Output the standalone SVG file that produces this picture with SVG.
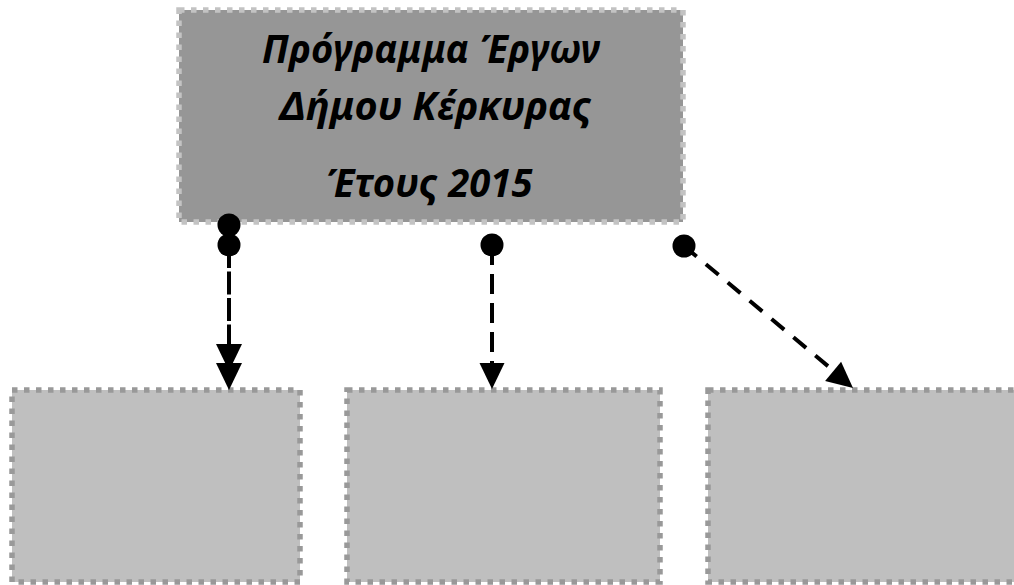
<svg xmlns="http://www.w3.org/2000/svg" width="1014" height="585" viewBox="0 0 1014 585">
<style>
.top{fill:#969696;stroke:#c3c3c3;stroke-width:5.5;stroke-dasharray:5.5 6.5}
.box{fill:#bfbfbf;stroke:#999999;stroke-width:5.5;stroke-dasharray:5.5 6.5}
.t{font-family:"Noto Sans","DejaVu Sans",sans-serif;font-weight:bold;font-style:italic;font-size:40px;fill:#000;text-anchor:middle}
.ln{stroke:#000;stroke-width:4;fill:none}
.hd{fill:#000}
</style>
<rect width="1014" height="585" fill="#fff"/>
<g id="node-main">
<rect class="top" x="179" y="10" width="504" height="212"/>
<text class="t" x="431" y="63" textLength="338" lengthAdjust="spacingAndGlyphs">Πρόγραμμα Έργων</text>
<text class="t" x="436" y="120" textLength="312" lengthAdjust="spacingAndGlyphs">Δήμου Κέρκυρας</text>
<text class="t" x="429" y="197" textLength="207" lengthAdjust="spacingAndGlyphs">Έτους 2015</text>
</g>
<g id="node-1"><rect class="box" x="12" y="390" width="288" height="192"/></g>
<g id="node-2"><rect class="box" x="347" y="390" width="313" height="192"/></g>
<g id="node-3"><rect class="box" x="708" y="390" width="320" height="192"/></g>
<g id="connectors">
<line class="ln" x1="229" y1="245" x2="229" y2="346" stroke-dasharray="23 3.5"/>
<circle class="hd" cx="229" cy="225" r="11.5"/>
<circle class="hd" cx="229" cy="245" r="11.5"/>
<polygon class="hd" points="216,344 242,344 229,371"/>
<polygon class="hd" points="216,363 242,363 229,390"/>
<line class="ln" x1="492" y1="245" x2="492" y2="364" stroke-dasharray="20 9"/>
<circle class="hd" cx="492" cy="245" r="11.5"/>
<polygon class="hd" points="479.5,363 504.5,363 492,389"/>
<line class="ln" x1="684" y1="246" x2="835" y2="372" stroke-dasharray="16.5 12"/>
<circle class="hd" cx="684" cy="246" r="11.5"/>
<polygon class="hd" points="825.1,380.9 841.1,361.7 853,388"/>
</g>
</svg>
